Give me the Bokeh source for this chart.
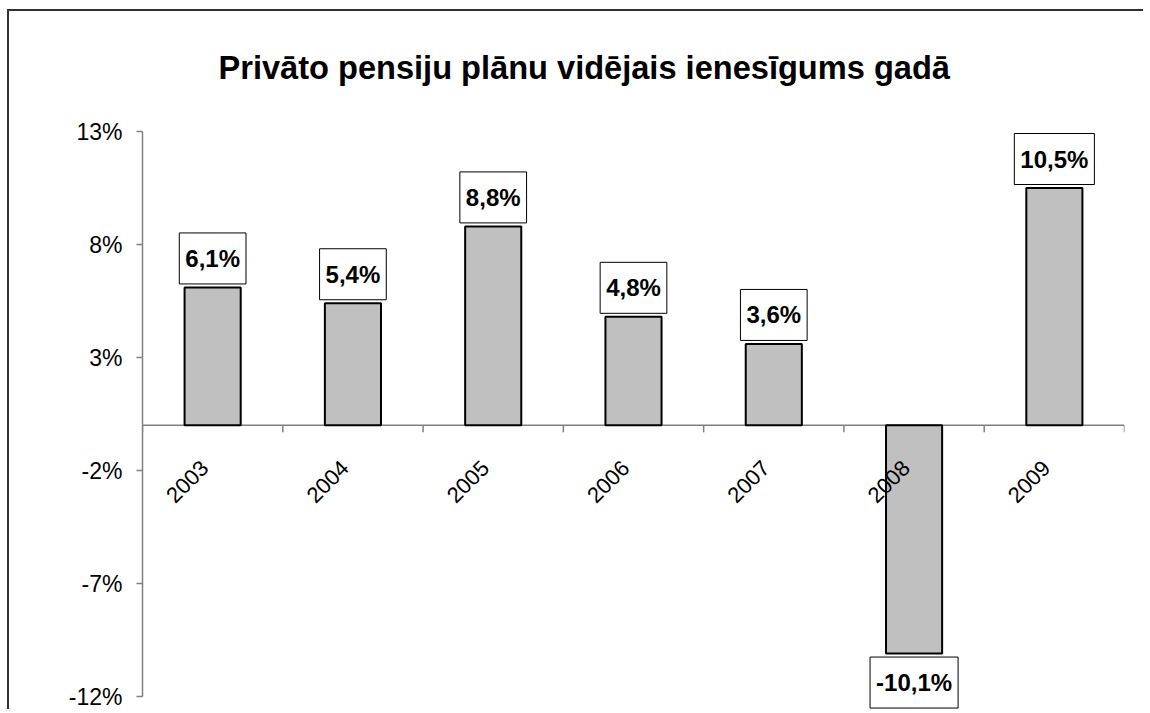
import math
from bokeh.plotting import figure
from bokeh.models import Label, Span, FixedTicker, PrintfTickFormatter, Range1d
from bokeh.core.properties import value
from bokeh.embed import file_html
from bokeh.resources import INLINE

title_text = "Privāto pensiju plānu vidējais ienesīgums gadā"
years = ["2003", "2004", "2005", "2006", "2007", "2008", "2009"]
returns = [6.1, 5.4, 8.8, 4.8, 3.6, -10.1, 10.5]
y_ticks = [-12, -7, -2, 3, 8, 13]

FONT = "Liberation Sans"
n = len(years)
centers = [i + 0.5 for i in range(n)]
bounds = [i for i in range(n + 1)]
labels = [f"{v:.1f}".replace(".", ",") + "%" for v in returns]

W, H = 1136, 700
ML, MR = 133, 21
PAD_TOP, PAD_BOTTOM = 120, 15          # pixels of frame above / below the value axis
ymin, ymax = y_ticks[0], y_ticks[-1]
px_per_unit = (H - PAD_TOP - PAD_BOTTOM) / (ymax - ymin)

p = figure(width=W, height=H, x_range=Range1d(0, n),
           y_range=Range1d(ymin - PAD_BOTTOM / px_per_unit, ymax + PAD_TOP / px_per_unit),
           output_backend="svg", toolbar_location=None, x_axis_location=None,
           min_border_left=ML, min_border_right=MR, min_border_top=0, min_border_bottom=0)
p.styles = {"border-top": "2px solid #303030", "border-left": "2px solid #303030",
            "margin-top": "9px", "margin-left": "7px"}
p.outline_line_color = None
p.xgrid.visible = False
p.ygrid.visible = False
p.background_fill_color = "white"
p.border_fill_color = "white"

# title placed in screen units relative to the frame
p.add_layout(Label(x=76, y=H - 56, x_units="screen", y_units="screen",
                   text=title_text, text_align="left", text_baseline="alphabetic",
                   text_font=FONT, text_font_size="32.6px", text_font_style="bold",
                   text_color="black"))

ax = p.yaxis[0]
ax.bounds = (ymin, ymax)
ax.ticker = FixedTicker(ticks=y_ticks)
ax.formatter = PrintfTickFormatter(format="%d%%")
ax.axis_line_color = "#808080"
ax.axis_line_width = 1.5
ax.major_tick_line_color = "#808080"
ax.major_tick_line_width = 1.5
ax.major_tick_out = 6
ax.major_tick_in = 0
ax.minor_tick_line_color = None
ax.major_label_text_font = FONT
ax.major_label_text_font_size = "23px"
ax.major_label_text_color = "black"
ax.major_label_standoff = 14

# horizontal axis at zero
p.add_layout(Span(location=0, dimension="width", line_color="#808080", line_width=1.5,
                  level="underlay"))
p.segment(x0=bounds, y0=[0] * len(bounds), x1=bounds, y1=[-7 / px_per_unit] * len(bounds),
          line_color="#808080", line_width=1.5)

p.vbar(x=centers, top=returns, bottom=0, width=0.4, fill_color="#C0C0C0",
       line_color="black", line_width=2)

p.text(x=centers, y=[0] * n, text=years, angle=math.pi / 4, text_align="right",
       text_baseline="middle", x_offset=-8, y_offset=39, text_font=value(FONT),
       text_font_size="22px", text_color="black")

for c, v, lab in zip(centers, returns, labels):
    off = 29 if v >= 0 else -29
    p.add_layout(Label(x=c, y=v, text=lab, y_offset=off, text_align="center",
                       text_baseline="middle", text_font=FONT, text_font_size="24px",
                       text_font_style="bold", text_color="black",
                       background_fill_color="white", border_line_color="black",
                       border_line_width=1,
                       padding=dict(left=6, right=6, top=12, bottom=12)))

open("out.html", "w").write(file_html(p, INLINE))
